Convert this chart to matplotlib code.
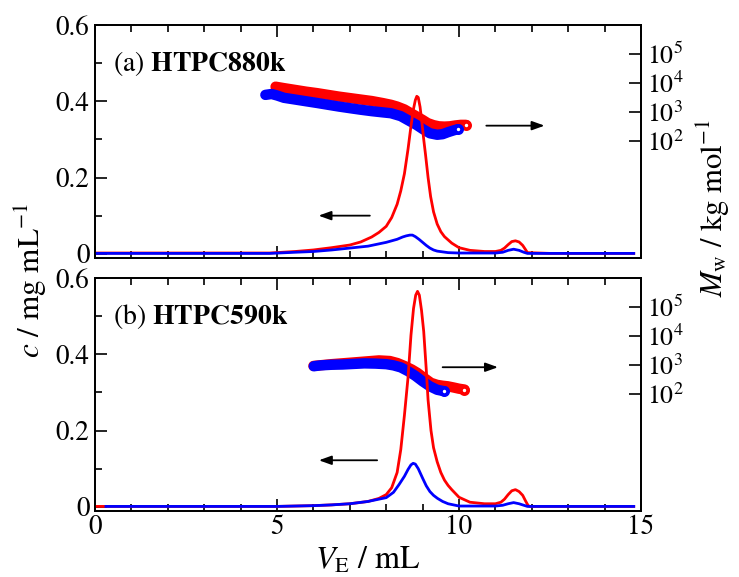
import numpy as np
import matplotlib.pyplot as plt

plt.rcParams['font.family'] = 'STIXGeneral'
plt.rcParams['mathtext.fontset'] = 'stix'

# ---- (a) HTPC880k : concentration (mg/mL) vs elution volume (mL)
ve_a_red = [0, 4.8, 5.5, 6.0, 6.5, 7.0, 7.3, 7.6, 7.8, 8.0, 8.15, 8.3, 8.4, 8.5, 8.6, 8.68,
            8.75, 8.8, 8.84, 8.88, 8.93, 8.98, 9.03, 9.08, 9.15, 9.22, 9.3, 9.4, 9.5, 9.6,
            9.8, 10.0, 10.3, 10.7, 11.0, 11.15, 11.25, 11.35, 11.45, 11.55, 11.65, 11.75,
            11.82, 11.88, 12.5, 14.8]
c_a_red = [0.002, 0.002, 0.006, 0.010, 0.016, 0.023, 0.031, 0.044, 0.056, 0.072, 0.095, 0.13,
           0.165, 0.21, 0.275, 0.335, 0.38, 0.403, 0.413, 0.41, 0.385, 0.345, 0.30, 0.26, 0.20,
           0.15, 0.11, 0.078, 0.058, 0.045, 0.028, 0.016, 0.009, 0.006, 0.006, 0.009, 0.015,
           0.024, 0.032, 0.034, 0.031, 0.022, 0.012, 0.003, 0.001, 0.001]
ve_a_blue = [0, 4.8, 5.5, 6.0, 6.5, 7.0, 7.5, 8.0, 8.3, 8.45, 8.55, 8.65, 8.72, 8.8, 8.9, 9.0,
             9.1, 9.2, 9.3, 9.4, 9.7, 10.0, 11.0, 11.2, 11.35, 11.5, 11.65, 11.78, 11.88, 14.8]
c_a_blue = [0.001, 0.001, 0.004, 0.006, 0.010, 0.015, 0.020, 0.030, 0.038, 0.044, 0.047,
            0.049, 0.049, 0.045, 0.038, 0.030, 0.022, 0.015, 0.010, 0.007, 0.003, 0.002,
            0.002, 0.004, 0.009, 0.012, 0.009, 0.004, 0.001, 0.001]

# ---- (b) HTPC590k
ve_b_red = [0, 0.3, 5.0, 6.0, 6.5, 7.0, 7.5, 7.8, 8.0, 8.15, 8.3, 8.4, 8.5, 8.6, 8.68, 8.75,
            8.81, 8.86, 8.91, 8.97, 9.03, 9.1, 9.15, 9.23, 9.3, 9.4, 9.5, 9.6, 9.7, 9.8, 10.0,
            10.3, 10.7, 11.0, 11.15, 11.25, 11.35, 11.45, 11.55, 11.65, 11.75, 11.83, 11.9,
            11.95, 14.8]
c_b_red = [0.001, 0.001, 0.001, 0.003, 0.005, 0.008, 0.014, 0.022, 0.032, 0.05, 0.09, 0.15,
           0.24, 0.34, 0.45, 0.52, 0.555, 0.565, 0.555, 0.515, 0.46, 0.36, 0.28, 0.20, 0.155,
           0.118, 0.09, 0.07, 0.056, 0.045, 0.025, 0.012, 0.008, 0.008, 0.012, 0.020, 0.032,
           0.042, 0.045, 0.040, 0.030, 0.015, 0.003, 0.001, 0.001]
ve_b_blue = [0.3, 5.0, 6.0, 6.5, 7.0, 7.5, 8.0, 8.2, 8.35, 8.5, 8.6, 8.68, 8.74, 8.8, 8.88,
             9.0, 9.1, 9.2, 9.3, 9.41, 9.55, 9.7, 10.0, 11.0, 11.2, 11.35, 11.5, 11.65, 11.78,
             11.88, 14.8]
c_b_blue = [0.001, 0.001, 0.003, 0.005, 0.008, 0.014, 0.024, 0.038, 0.058, 0.08, 0.098, 0.11,
            0.114, 0.112, 0.10, 0.075, 0.055, 0.040, 0.030, 0.022, 0.014, 0.008, 0.002, 0.002,
            0.004, 0.008, 0.011, 0.008, 0.004, 0.001, 0.001]

# ---- Mw (kg/mol) vs elution volume
ve_mw_a_red = [4.96, 5.2, 5.5, 5.8, 6.1, 6.4, 6.7, 7.0, 7.3, 7.6, 7.9, 8.13, 8.3, 8.5, 8.68,
               8.85, 9.0, 9.14, 9.3, 9.45, 9.6, 9.75, 9.9, 10.05, 10.19]
mw_a_red = [7600, 6760, 5890, 5130, 4570, 3980, 3470, 3090, 2750, 2450, 2090, 1820, 1580, 1260,
            933, 708, 550, 427, 363, 331, 324, 331, 355, 372, 372]
ve_mw_a_blue = [4.68, 4.85, 5.0, 5.19, 5.5, 5.8, 6.11, 6.4, 6.7, 7.02, 7.3, 7.6, 7.9, 8.13,
                8.4, 8.6, 8.83, 9.0, 9.2, 9.4, 9.55, 9.7, 9.85, 9.96]
mw_a_blue = [3980, 4270, 3800, 3160, 2750, 2400, 2090, 1820, 1580, 1380, 1230, 1100, 1000, 933,
             741, 537, 372, 269, 191, 170, 178, 209, 240, 263]
ve_mw_b_red = [6.0, 6.5, 7.0, 7.5, 7.8, 8.1, 8.31, 8.5, 8.7, 8.86, 9.04, 9.23, 9.4, 9.55,
               9.69, 9.85, 10.0, 10.15]
mw_b_red = [955, 1100, 1230, 1380, 1480, 1410, 1200, 955, 724, 550, 372, 251, 214, 200, 191,
            174, 158, 148]
ve_mw_b_blue = [6.01, 6.2, 6.5, 6.8, 7.1, 7.4, 7.7, 8.0, 8.2, 8.4, 8.6, 8.8, 9.0, 9.2, 9.4, 9.6]
mw_b_blue = [933, 1000, 1050, 1070, 1120, 1170, 1150, 1100, 1000, 851, 631, 437, 282, 191, 145,
             129]

panels = [
    ('(a)', 'HTPC880k', ve_a_red, c_a_red, ve_a_blue, c_a_blue,
     ve_mw_a_red, mw_a_red, ve_mw_a_blue, mw_a_blue,
     (7.55, 6.14, 0.10), (10.75, 12.35, 0.336)),
    ('(b)', 'HTPC590k', ve_b_red, c_b_red, ve_b_blue, c_b_blue,
     ve_mw_b_red, mw_b_red, ve_mw_b_blue, mw_b_blue,
     (7.75, 6.15, 0.122), (9.55, 11.07, 0.366)),
]

fig = plt.figure(figsize=(7.39, 5.77), dpi=100)
boxes = [[0.1286, 0.5529, 0.7388, 0.4038], [0.1286, 0.1144, 0.7388, 0.4038]]
red, blue = '#ff0000', '#0000ff'
arrow_style = dict(arrowstyle='-|>,head_length=0.5,head_width=0.18', color='k', lw=1.3,
                   mutation_scale=15, shrinkA=0, shrinkB=0)

for i, (tag, name, vr, cr, vb, cb, mvr, mr, mvb, mb, larr, rarr) in enumerate(panels):
    ax = fig.add_axes(boxes[i])
    ax2 = ax.twinx()
    ax.set_zorder(ax2.get_zorder() + 1)
    ax.patch.set_visible(False)

    # Mw bands
    for vv, mm, col in [(mvr, mr, red), (mvb, mb, blue)]:
        ax2.plot(vv, mm, '-', color=col, lw=7.5, solid_capstyle='round',
                 solid_joinstyle='round')
        ax2.plot(vv[-1:], mm[-1:], 'o', ms=5.2, mew=2.7, mec=col, mfc='white')
    ax2.set_yscale('log')
    ax2.set_ylim(1e-2, 1e6)
    ax2.set_yticks([1e2, 1e3, 1e4, 1e5])
    ax2.minorticks_off()
    ax2.tick_params(axis='y', direction='in', length=8.8, width=1.2, labelsize=18.5, pad=4)

    # concentration curves
    ax.plot(vr, cr, color=red, lw=2)
    ax.plot(vb, cb, color=blue, lw=2)

    ax.annotate('', xy=(larr[1], larr[2]), xytext=(larr[0], larr[2]), arrowprops=arrow_style)
    ax.annotate('', xy=(rarr[1], rarr[2]), xytext=(rarr[0], rarr[2]), arrowprops=arrow_style)
    ax.text(0.5, 0.5, tag + r' $\mathbf{' + name + '}$', fontsize=20, va='center')

    ax.set_xlim(0, 15)
    ax.set_ylim(-0.011, 0.6)
    ax.set_xticks([0, 5, 10, 15])
    ax.set_xticks(np.arange(0, 16, 1), minor=True)
    ax.set_yticks([0, 0.2, 0.4, 0.6])
    ax.set_yticklabels(['0', '0.2', '0.4', '0.6'])
    ax.set_yticks([0.1, 0.3, 0.5], minor=True)
    ax.tick_params(which='major', direction='in', length=8.8, width=1.2, labelsize=19.5,
                   top=True, right=False)
    ax.tick_params(which='minor', direction='in', length=4.8, width=1.2, top=True, right=False)
    ax.tick_params(axis='y', pad=4)
    ax.tick_params(axis='x', pad=3)
    if i == 0:
        ax.tick_params(axis='x', labelbottom=False)
    for a in (ax, ax2):
        for s in a.spines.values():
            s.set_linewidth(1.3)

ax.set_xlabel(r'$V_{\rm E}$ / mL', fontsize=23, labelpad=4)
fig.text(0.042, 0.515, r'$c$ / mg mL$^{-1}$', fontsize=22.5, rotation=90,
         ha='center', va='center')
fig.text(0.966, 0.64, r'$M_{\rm w}$ / kg mol$^{-1}$', fontsize=22, rotation=90,
         ha='center', va='center')

fig.savefig('out.png', dpi=100)
